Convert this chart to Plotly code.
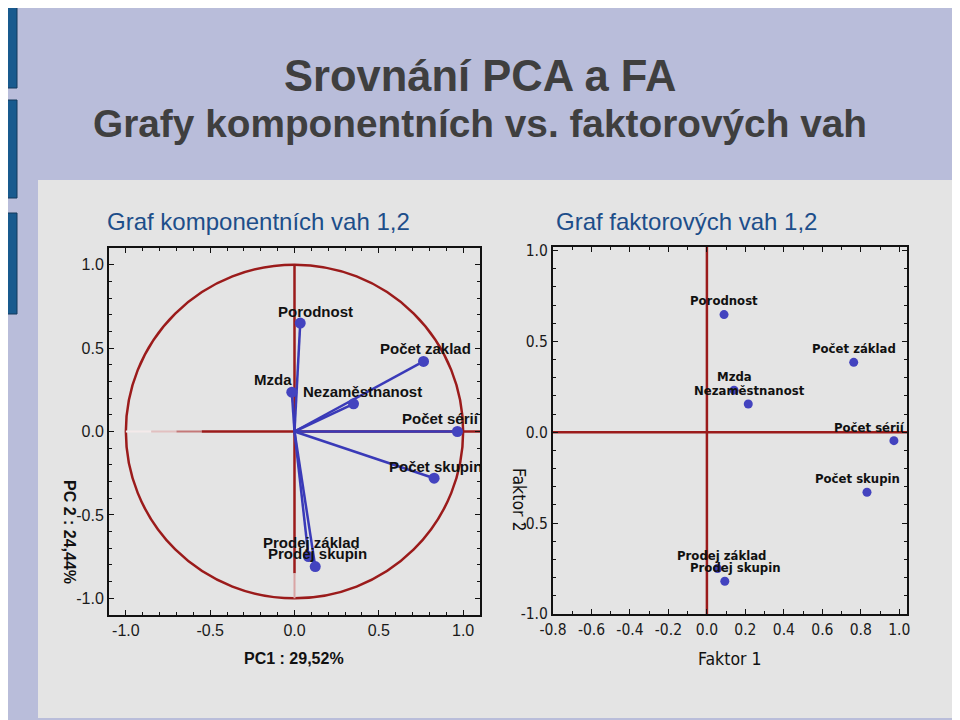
import plotly.graph_objects as go

# --- data ---
variables = ["Porodnost", "Počet zaklad", "Mzda", "Nezaměstnanost", "Počet sérií",
             "Počet skupin", "Prodej základ", "Prodej skupin"]

pca_pc1 = [0.034, 0.765, -0.016, 0.35, 0.966, 0.828, 0.083, 0.123]
pca_pc2 = [0.65, 0.42, 0.236, 0.166, 0.0, -0.28, -0.75, -0.81]

fa_labels = ["Porodnost", "Počet základ", "Mzda", "Nezaměstnanost", "Počet sérií",
             "Počet skupin", "Prodej základ", "Prodej skupin"]
fa_f1 = [0.089, 0.763, 0.141, 0.215, 0.972, 0.832, 0.055, 0.093]
fa_f2 = [0.648, 0.385, 0.232, 0.156, -0.046, -0.33, -0.75, -0.82]

pca_ticks = [-1.0, -0.5, 0.0, 0.5, 1.0]
pca_ticktext = ["-1.0", "-0.5", "0.0", "0.5", "1.0"]
fa_xticks = [-0.8, -0.6, -0.4, -0.2, 0.0, 0.2, 0.4, 0.6, 0.8, 1.0]
fa_xticktext = ["-0.8", "-0.6", "-0.4", "-0.2", "0.0", "0.2", "0.4", "0.6", "0.8", "1.0"]
fa_yticks = [-1.0, -0.5, 0.0, 0.5, 1.0]
fa_yticktext = ["-1.0", "-0.5", "0.0", "0.5", "1.0"]

# label offsets in pixels (dx, dy) relative to the point
pca_offsets = [(15, 12), (2, 13), (-19, 13), (9, 12), (-17, 13), (1, 12), (3, 14), (2, 13)]
fa_offsets = [(0, 14), (0, 14), (0, 14), (1, 13), (-24, 13), (-9, 14), (5, 13), (11, 14)]

BG = "#b9bdda"
PANEL = "#e4e4e4"
RED = "#9b1b1b"
BLUE = "#4343bf"
W, H = 960, 720
OFF = 8  # page body margin
NARROW = "DejaVu Sans Condensed, Liberation Sans"


def px(x):
    return (x - OFF) / W


def py(y):
    return 1 - (y - OFF) / H


def note(x, y, text, size, color="#111111", bold=False, angle=0, family="Liberation Sans"):
    return dict(x=px(x), y=py(y), xref="paper", yref="paper", text=text, showarrow=False,
                xanchor="center", yanchor="middle", textangle=angle,
                font=dict(family=family, size=size, color=color,
                          weight="bold" if bold else "normal"))


fig = go.Figure()

# vectors from origin (PCA)
vx, vy = [], []
for a, b in zip(pca_pc1, pca_pc2):
    vx += [0, a, None]
    vy += [0, b, None]
fig.add_trace(go.Scatter(x=vx, y=vy, mode="lines", line=dict(color="#3a3ab8", width=2.5),
                         xaxis="x", yaxis="y", hoverinfo="skip", showlegend=False))
fig.add_trace(go.Scatter(x=pca_pc1, y=pca_pc2, mode="markers", text=variables,
                         marker=dict(color=BLUE, size=11), xaxis="x", yaxis="y",
                         showlegend=False))
fig.add_trace(go.Scatter(x=fa_f1, y=fa_f2, mode="markers", text=fa_labels,
                         marker=dict(color=BLUE, size=9), xaxis="x2", yaxis="y2",
                         showlegend=False))

annotations = []
for lab, a, b, (dx, dy) in zip(variables, pca_pc1, pca_pc2, pca_offsets):
    annotations.append(dict(x=a, y=b, xref="x", yref="y", text=lab, showarrow=False,
                            xshift=dx, yshift=dy, xanchor="center", yanchor="middle",
                            font=dict(family="Liberation Sans", size=15, color="#111111",
                                      weight="bold")))
for lab, a, b, (dx, dy) in zip(fa_labels, fa_f1, fa_f2, fa_offsets):
    annotations.append(dict(x=a, y=b, xref="x2", yref="y2", text=lab, showarrow=False,
                            xshift=dx, yshift=dy, xanchor="center", yanchor="middle",
                            font=dict(family=NARROW, size=13, color="#111111",
                                      weight="bold")))

annotations += [
    note(480, 76, "Srovnání PCA a FA", 43.5, "#3f3f3f", True),
    note(480, 124, "Grafy komponentních vs. faktorových vah", 38.8, "#3f3f3f", True),
    note(258, 221, "Graf komponentních vah 1,2", 24, "#1d4e8a"),
    note(686, 221, "Graf faktorových vah 1,2", 24, "#1d4e8a"),
    note(294, 658, "PC1 : 29,52%", 16, bold=True),
    note(70, 532, "PC 2 : 24,44%", 16, bold=True, angle=90),
    note(730, 659, "Faktor 1", 17.5, family=NARROW),
    note(519, 500, "Faktor 2", 17.5, angle=90, family=NARROW),
]

shapes = [
    # slide panel and side bars
    dict(type="rect", xref="paper", yref="paper", x0=px(38), x1=px(955), y0=py(718), y1=py(180),
         fillcolor=PANEL, line=dict(width=0), layer="below"),
    dict(type="rect", xref="paper", yref="paper", x0=px(0), x1=px(17), y0=py(88), y1=py(0),
         fillcolor="#185a8e", line=dict(color="#12385a", width=1), layer="below"),
    dict(type="rect", xref="paper", yref="paper", x0=px(0), x1=px(17), y0=py(198), y1=py(100),
         fillcolor="#185a8e", line=dict(color="#12385a", width=1), layer="below"),
    dict(type="rect", xref="paper", yref="paper", x0=px(0), x1=px(17), y0=py(314), y1=py(213),
         fillcolor="#185a8e", line=dict(color="#12385a", width=1), layer="below"),
    # unit circle and axes of the PCA plot
    dict(type="circle", xref="x", yref="y", x0=-1, x1=1, y0=-1, y1=1,
         line=dict(color=RED, width=2.5), layer="below"),
    dict(type="line", xref="x", yref="y", x0=-1, x1=-0.85, y0=0, y1=0,
         line=dict(color="#f4eaea", width=2), layer="below"),
    dict(type="line", xref="x", yref="y", x0=-0.85, x1=-0.7, y0=0, y1=0,
         line=dict(color="#e2c0c0", width=2), layer="below"),
    dict(type="line", xref="x", yref="y", x0=-0.7, x1=-0.55, y0=0, y1=0,
         line=dict(color="#c47878", width=2), layer="below"),
    dict(type="line", xref="x", yref="y", x0=-0.55, x1=1.1, y0=0, y1=0,
         line=dict(color=RED, width=2.5), layer="below"),
    dict(type="line", xref="x", yref="y", x0=0, x1=0, y0=-0.85, y1=1,
         line=dict(color=RED, width=2.5), layer="below"),
    dict(type="line", xref="x", yref="y", x0=0, x1=0, y0=-1, y1=-0.85,
         line=dict(color="#d9a5a5", width=2), layer="below"),
    # axes of the FA plot
    dict(type="line", xref="x2", yref="y2", x0=-0.8, x1=1.04, y0=0, y1=0,
         line=dict(color=RED, width=2.5), layer="below"),
    dict(type="line", xref="x2", yref="y2", x0=0, x1=0, y0=-1, y1=1.02,
         line=dict(color=RED, width=2.5), layer="below"),
]

axis_common = dict(showgrid=False, zeroline=False, showline=True, linecolor="#111111",
                   linewidth=2, mirror="ticks", ticks="inside", ticklen=5, tickwidth=1,
                   tickcolor="#111111",
                   minor=dict(dtick=0.1, ticks="inside", ticklen=3, tickcolor="#111111"))
left_font = dict(family="Liberation Sans", size=16, color="#1a1a1a")
right_font = dict(family=NARROW, size=15.5, color="#1a1a1a")

fig.update_layout(
    width=W, height=H,
    margin=dict(l=0, r=0, t=0, b=0, autoexpand=False),
    paper_bgcolor=BG,
    plot_bgcolor="white",
    showlegend=False,
    xaxis=dict(domain=[px(109), px(480)], range=[-1.1, 1.1], tickvals=pca_ticks,
               ticktext=pca_ticktext, tickfont=left_font, anchor="y", **axis_common),
    yaxis=dict(domain=[py(615), py(248)], range=[-1.1, 1.1], tickvals=pca_ticks,
               ticktext=pca_ticktext, tickfont=left_font, anchor="x", **axis_common),
    xaxis2=dict(domain=[px(553), px(907)], range=[-0.8, 1.04], tickvals=fa_xticks,
                ticktext=fa_xticktext, tickfont=right_font, anchor="y2", **axis_common),
    yaxis2=dict(domain=[py(614), py(247)], range=[-1.0, 1.02], tickvals=fa_yticks,
                ticktext=fa_yticktext, tickfont=right_font, anchor="x2", **axis_common),
    annotations=annotations,
    shapes=shapes,
)

fig.write_html("out.html")
